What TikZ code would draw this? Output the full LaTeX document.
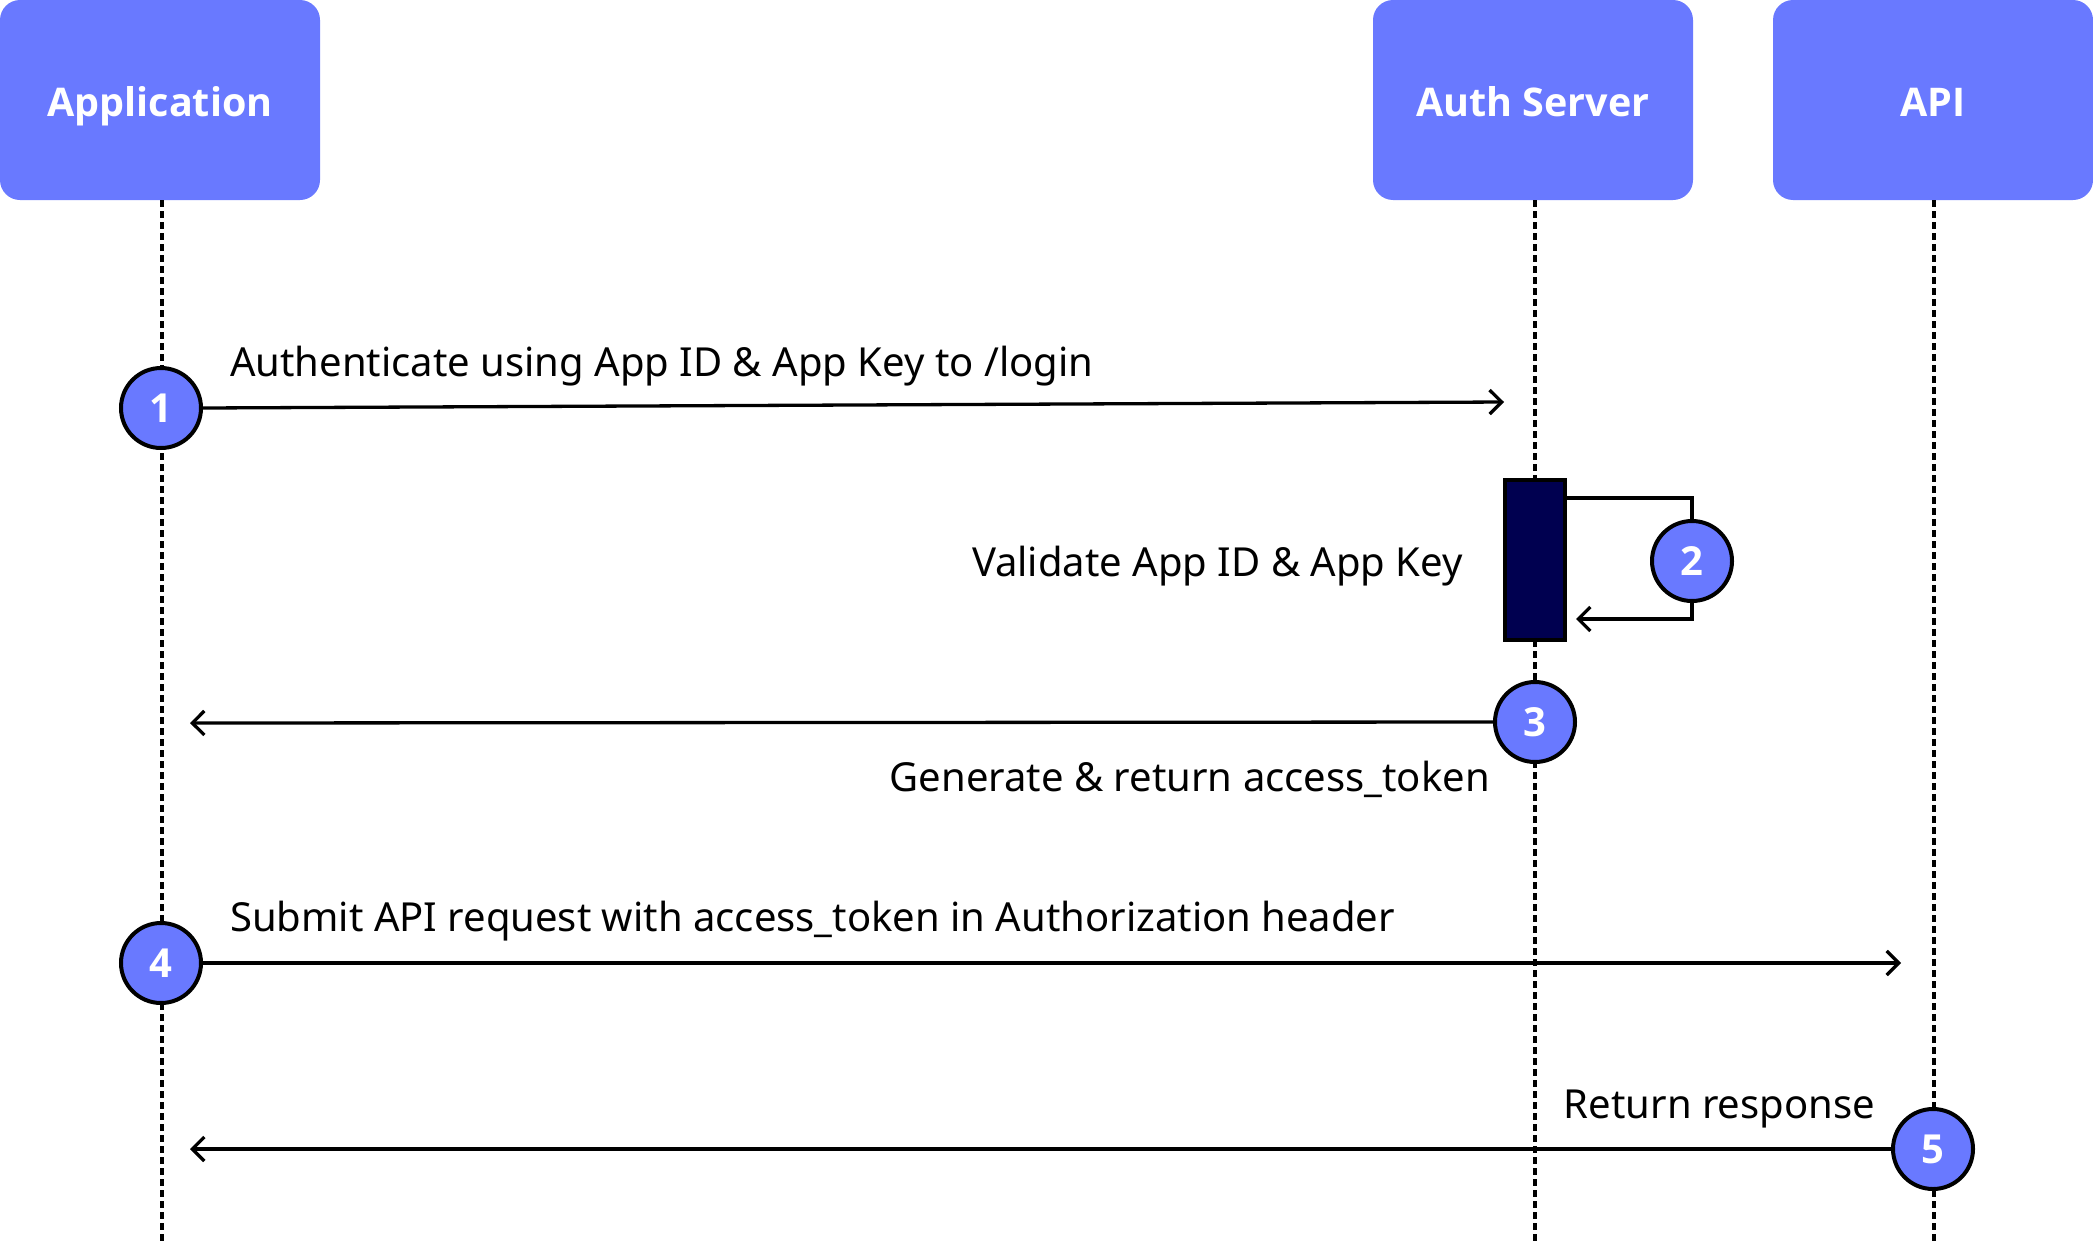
\documentclass[tikz,border=0pt]{standalone}
\usepackage{fontspec}
\setmainfont{Noto Sans}
\newfontfamily\headfont{Open Sans}
\usetikzlibrary{arrows.meta}
\definecolor{boxblue}{RGB}{105,121,255}
\definecolor{barnavy}{RGB}{0,0,80}
\tikzset{
  actor/.style={fill=boxblue, rounded corners=20pt, minimum width=320pt, minimum height=200pt,
    inner sep=0pt, text height=32pt, text depth=0pt, text=white, font=\headfont\fontsize{39.5}{44}\selectfont\bfseries},
  lifeline/.style={line width=3.5pt, dash pattern=on 7pt off 4pt},
  stepnum/.style={circle, draw=black, line width=4pt, fill=boxblue, minimum size=80pt, inner sep=0pt,
    text height=28pt, text depth=0pt, text=white, font=\headfont\fontsize{40}{44}\selectfont\bfseries},
  msg/.style={line width=3.3pt, -{Straight Barb[length=12pt,width=24pt,line width=3.3pt]}},
  plain/.style={line width=3.3pt},
  lbl/.style={inner sep=0pt, font=\fontsize{40}{46}\selectfont},
  actbar/.style={draw=black, line width=3.5pt, fill=barnavy, minimum width=60pt, minimum height=160pt, inner sep=0pt}
}
\begin{document}
\begin{tikzpicture}[x=1pt,y=-1pt]
\useasboundingbox (0,0) rectangle (2093,1245);
% actors
\node[actor] (app) at (160,100) {Application};
\node[actor] (auth) at (1533,100) {Auth Server};
\node[actor] (api) at (1933,100) {API};
% lifeline ends
\coordinate (append) at (162,1245);
\coordinate (authend) at (1535,1245);
\coordinate (apiend) at (1934,1245);
\draw[lifeline] (app.south -| append) -- (append);
\draw[lifeline] (auth.south -| authend) -- (authend);
\draw[lifeline] (api.south -| apiend) -- (apiend);
% activation bar
\node[actbar] (act) at (1535,560) {};
% step 1
\node[stepnum] (c1) at (161,408) {1};
\coordinate (a1end) at (1504,402);
\draw[msg] (c1.east) -- (a1end);
\node[lbl, anchor=base west] (l1) at (230,376) {Authenticate using App ID \& App Key to /login};
% step 2
\node[stepnum] (c2) at (1692,561) {2};
\coordinate (s2a) at (1566,498);
\coordinate (s2b) at (1576,619);
\draw[plain] (s2a) -| (c2.north);
\draw[msg] (c2.south) |- (s2b);
\node[lbl, anchor=base east] (l2) at (1463,576) {Validate App ID \& App Key};
% step 3
\node[stepnum] (c3) at (1535,722) {3};
\coordinate (a3end) at (190,723);
\draw[msg] (c3.west) -- (a3end);
\node[lbl, anchor=base east] (l3) at (1490,791) {Generate \& return access\_token};
% step 4
\node[stepnum] (c4) at (161,963) {4};
\coordinate (a4end) at (1901,963);
\draw[msg] (c4.east) -- (a4end);
\node[lbl, anchor=base west] (l4) at (230,931) {Submit API request with access\_token in Authorization header};
% step 5
\node[stepnum] (c5) at (1933,1149) {5};
\coordinate (a5end) at (190,1149);
\draw[msg] (c5.west) -- (a5end);
\node[lbl, anchor=base east] (l5) at (1875,1118) {Return response};
\end{tikzpicture}
\end{document}
